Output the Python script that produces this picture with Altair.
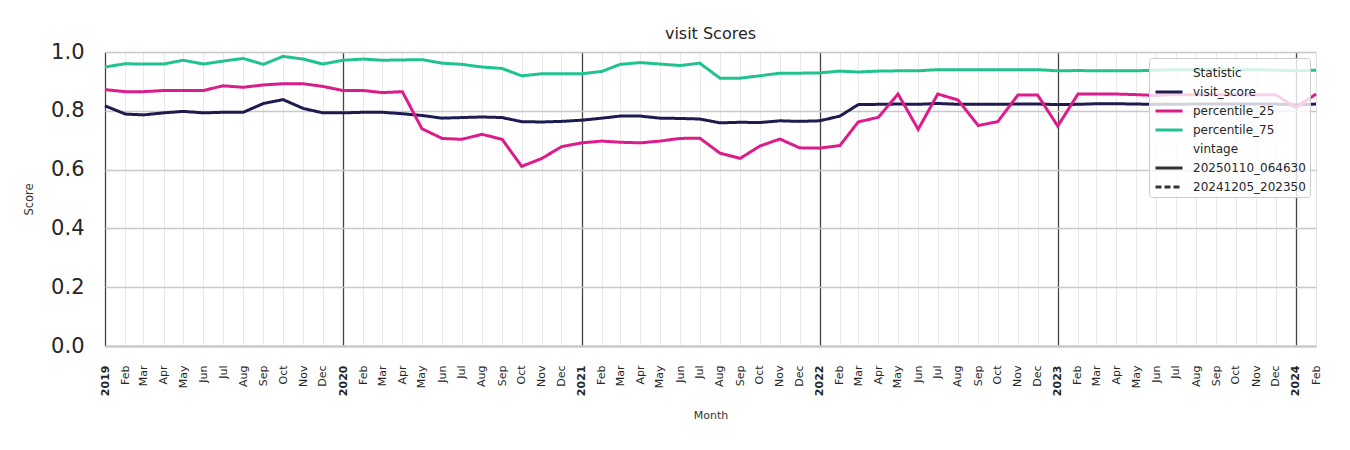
import altair as alt
import pandas as pd

months = pd.date_range("2019-01-01", "2024-02-01", freq="MS").strftime("%Y-%m-%d").tolist()

visit_score = [
    0.817, 0.789, 0.786, 0.793, 0.798, 0.793, 0.795, 0.795, 0.825, 0.838, 0.808, 0.793,
    0.793, 0.795, 0.795, 0.790, 0.784, 0.775, 0.777, 0.779, 0.777, 0.763, 0.762, 0.764,
    0.768, 0.775, 0.782, 0.782, 0.775, 0.774, 0.772, 0.759, 0.761, 0.760, 0.766, 0.764,
    0.766, 0.782, 0.821, 0.822, 0.823, 0.822, 0.825, 0.822, 0.822, 0.822, 0.823, 0.823,
    0.821, 0.822, 0.824, 0.824, 0.823, 0.822, 0.822, 0.823, 0.823, 0.823, 0.823, 0.823,
    0.820, 0.823,
]
percentile_25 = [
    0.872, 0.865, 0.865, 0.869, 0.869, 0.869, 0.885, 0.880, 0.888, 0.892, 0.892, 0.883,
    0.869, 0.869, 0.862, 0.865, 0.739, 0.706, 0.703, 0.720, 0.703, 0.611, 0.638, 0.678,
    0.691, 0.697, 0.693, 0.691, 0.697, 0.706, 0.707, 0.656, 0.638, 0.680, 0.704, 0.674,
    0.673, 0.682, 0.762, 0.778, 0.857, 0.737, 0.857, 0.837, 0.750, 0.763, 0.854, 0.854,
    0.748, 0.857, 0.857, 0.857, 0.855, 0.852, 0.855, 0.855, 0.855, 0.855, 0.855, 0.855,
    0.811, 0.857,
]
percentile_75 = [
    0.949, 0.960, 0.959, 0.959, 0.972, 0.959, 0.969, 0.978, 0.958, 0.985, 0.976, 0.959,
    0.972, 0.976, 0.972, 0.973, 0.974, 0.962, 0.958, 0.949, 0.944, 0.919, 0.926, 0.926,
    0.926, 0.934, 0.958, 0.964, 0.959, 0.954, 0.962, 0.911, 0.911, 0.919, 0.928, 0.928,
    0.929, 0.935, 0.932, 0.935, 0.936, 0.936, 0.940, 0.940, 0.940, 0.940, 0.940, 0.940,
    0.936, 0.937, 0.936, 0.936, 0.936, 0.938, 0.940, 0.940, 0.940, 0.940, 0.940, 0.938,
    0.936, 0.938,
]

legend_entries = ["Statistic", "visit_score", "percentile_25", "percentile_75",
                  "vintage", "20250110_064630", "20241205_202350"]
legend_colors = ["transparent", "#1d1b4f", "#dd1c8b", "#20c290",
                 "transparent", "#333333", "#333333"]
legend_dashes = [[1, 0], [1, 0], [1, 0], [1, 0], [1, 0], [1, 0], [6, 3]]

rows = []
for name, vals in [("visit_score", visit_score), ("percentile_25", percentile_25),
                   ("percentile_75", percentile_75)]:
    for m, v in zip(months, vals):
        rows.append({"Month": m, "Score": v, "Statistic": name})
df = pd.DataFrame(rows)

FONT = "DejaVu Sans"

x_axis = alt.Axis(
    title="Month",
    titleFontSize=11, titleFontWeight="normal", titleColor="#333333", titlePadding=14,
    titleFont=FONT,
    format="%b",
    tickCount={"interval": "month", "step": 1},
    labelExpr="month(datum.value) == 0 ? timeFormat(datum.value, '%Y') : timeFormat(datum.value, '%b')",
    labelFontWeight={"condition": {"test": "month(datum.value) == 0", "value": "bold"}, "value": "normal"},
    labelAngle=270, labelAlign="right", labelBaseline="middle",
    labelFontSize=11, labelColor="#262626", labelPadding=19, labelFont=FONT,
    labelOverlap=False, labelFlush=False,
    ticks=False,
    grid=True,
    gridColor={"condition": {"test": "month(datum.value) == 0", "value": "#444444"}, "value": "#e3e3e3"},
    gridWidth={"condition": {"test": "month(datum.value) == 0", "value": 1.3}, "value": 0.8},
    domain=True, domainColor="#cccccc", domainWidth=2.5,
)

y_axis = alt.Axis(
    title="Score",
    titleFontSize=11.5, titleFontWeight="normal", titleColor="#333333", titlePadding=16,
    titleFont=FONT,
    values=[0, 0.2, 0.4, 0.6, 0.8, 1.0], format=".1f",
    labelFontSize=21, labelColor="#262626", labelPadding=21, labelFont=FONT,
    ticks=False, domain=False,
    grid=True, gridColor="#c8c8c8", gridWidth=1.5,
)

chart = alt.Chart(df).mark_line(strokeWidth=3).encode(
    x=alt.X("Month:T", axis=x_axis,
            scale=alt.Scale(domain=["2019-01-01", "2024-02-01"], nice=False)),
    y=alt.Y("Score:Q", axis=y_axis, scale=alt.Scale(domain=[0, 1], nice=False)),
    color=alt.Color(
        "Statistic:N",
        scale=alt.Scale(domain=legend_entries, range=legend_colors),
        legend=alt.Legend(
            title=None, orient="top-right", offset=6,
            labelFontSize=12, labelFont=FONT, labelColor="#262626", labelOffset=13,
            symbolType="M-1.42,0H1.42", symbolSize=361, symbolStrokeWidth=3,
            symbolFillColor="transparent", symbolOffset=5,
            rowPadding=2, padding=4,
            fillColor="rgba(255,255,255,0.8)", strokeColor="#cccccc", cornerRadius=3,
        ),
    ),
    strokeDash=alt.StrokeDash(
        "Statistic:N",
        scale=alt.Scale(domain=legend_entries, range=legend_dashes),
        legend=alt.Legend(title=None),
    ),
).properties(
    width=1211, height=294,
    title=alt.TitleParams("visit Scores", fontSize=16, font=FONT, fontWeight="normal",
                          color="#262626", anchor="middle", offset=-1),
    autosize=alt.AutoSizeParams(type="none"),
    padding={"left": 105, "top": 52, "right": 34, "bottom": 104},
).configure_view(stroke=None).configure(background="white")

chart.save("out.html", embed_options={"renderer": "svg", "actions": False})
